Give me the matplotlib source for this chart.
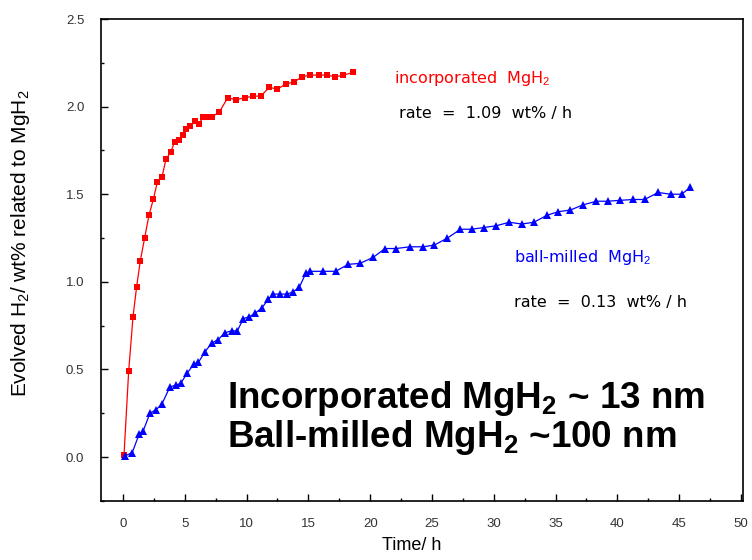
import matplotlib
matplotlib.use("Agg")
import matplotlib.pyplot as plt
from matplotlib.ticker import MultipleLocator

plt.rcParams["font.family"] = ["Liberation Sans", "DejaVu Sans"]
plt.rcParams["mathtext.fontset"] = "custom"
plt.rcParams["mathtext.rm"] = "Liberation Sans"
plt.rcParams["mathtext.bf"] = "Liberation Sans:bold"

# --- データ ---
inc_t = [0.08, 0.46, 0.81, 1.1, 1.4, 1.75, 2.1, 2.45, 2.78, 3.16, 3.48, 3.86, 4.18,
         4.5, 4.83, 5.1, 5.42, 5.83, 6.12, 6.5, 6.8, 7.17, 7.8, 8.47, 9.14, 9.84,
         10.54, 11.14, 11.84, 12.5, 13.19, 13.83, 14.48, 15.13, 15.83, 16.48, 17.18,
         17.83, 18.63]
inc_h = [0.01, 0.49, 0.80, 0.97, 1.12, 1.25, 1.38, 1.47, 1.57, 1.60, 1.70, 1.74, 1.80,
         1.81, 1.84, 1.87, 1.89, 1.92, 1.90, 1.94, 1.94, 1.94, 1.97, 2.05, 2.04, 2.05,
         2.06, 2.06, 2.11, 2.10, 2.13, 2.14, 2.17, 2.18, 2.18, 2.18, 2.17, 2.18, 2.195]

bm_t = [0.16, 0.75, 1.3, 1.64, 2.18, 2.67, 3.13, 3.8, 4.28, 4.67, 5.2, 5.74, 6.1,
        6.63, 7.17, 7.7, 8.25, 8.79, 9.25, 9.74, 10.2, 10.68, 11.22, 11.76, 12.16,
        12.7, 13.24, 13.73, 14.27, 14.8, 15.13, 16.2, 17.2, 18.23, 19.17, 20.25,
        21.2, 22.1, 23.2, 24.3, 25.2, 26.25, 27.3, 28.2, 29.2, 30.2, 31.25, 32.25,
        33.25, 34.3, 35.2, 36.2, 37.25, 38.3, 39.2, 40.2, 41.3, 42.2, 43.3, 44.3,
        45.2, 45.9]
bm_h = [0.006, 0.025, 0.13, 0.15, 0.25, 0.27, 0.30, 0.40, 0.41, 0.42, 0.48, 0.53, 0.54,
        0.60, 0.65, 0.67, 0.71, 0.72, 0.72, 0.79, 0.80, 0.82, 0.85, 0.90, 0.93,
        0.93, 0.93, 0.94, 0.97, 1.05, 1.06, 1.06, 1.06, 1.10, 1.105, 1.14,
        1.19, 1.19, 1.20, 1.20, 1.21, 1.25, 1.30, 1.30, 1.31, 1.32, 1.34, 1.33,
        1.34, 1.38, 1.40, 1.41, 1.44, 1.46, 1.46, 1.465, 1.47, 1.47, 1.51, 1.50,
        1.50, 1.54]

fig = plt.figure(figsize=(7.52, 5.60), dpi=100)
ax = fig.add_axes([0.1343, 0.1054, 0.8537, 0.8606])

ax.plot(inc_t, inc_h, "-", color="red", linewidth=0.9, marker="s", markersize=4.5,
        markeredgewidth=0)
ax.plot(bm_t, bm_h, "-", color="blue", linewidth=0.9, marker="^", markersize=6,
        markeredgewidth=0)

ax.set_xlim(-1.78, 50.16)
ax.set_ylim(-0.251, 2.5)
ax.xaxis.set_major_locator(MultipleLocator(5))
ax.xaxis.set_minor_locator(MultipleLocator(2.5))
ax.yaxis.set_minor_locator(MultipleLocator(0.25))
ax.set_yticks([0, 0.5, 1.0, 1.5, 2.0, 2.5])
ax.set_yticklabels(["0.0", "0.5", "1.0", "1.5", "2.0", "2.5"])
ax.tick_params(which="both", direction="in", top=False, right=False,
               labelsize=9.5, labelcolor="#333333")
ax.tick_params(which="major", length=5, width=1, pad=12)
ax.tick_params(which="minor", length=2.5, width=1)
for s in ax.spines.values():
    s.set_linewidth(1.2)

ax.set_xlabel("Time/ h", fontsize=13)
ax.xaxis.set_label_coords(0.4836, -0.075)
ax.set_ylabel(r"Evolved H$_2$/ wt% related to MgH$_2$", fontsize=15)
ax.yaxis.set_label_coords(-0.108, 0.535)

ax.text(21.9, 2.16, r"incorporated  MgH$_2$", color="red", fontsize=11.5,
        family="DejaVu Sans", ha="left", va="center")
ax.text(22.3, 1.96, "rate  =  1.09  wt% / h", color="black", fontsize=11.5,
        family="DejaVu Sans", ha="left", va="center")
ax.text(31.6, 1.14, r"ball-milled  MgH$_2$", color="blue", fontsize=11.5,
        family="DejaVu Sans", ha="left", va="center")
ax.text(31.6, 0.88, "rate  =  0.13  wt% / h", color="black", fontsize=11.5,
        family="DejaVu Sans", ha="left", va="center")

ax.text(8.4, 0.335, r"Incorporated MgH$_\mathbf{2}$ ~ 13 nm", fontsize=26.5,
        fontweight="bold", ha="left", va="center")
ax.text(8.4, 0.11, r"Ball-milled MgH$_\mathbf{2}$ ~100 nm", fontsize=26.5,
        fontweight="bold", ha="left", va="center")

fig.savefig("out.png", dpi=100)
